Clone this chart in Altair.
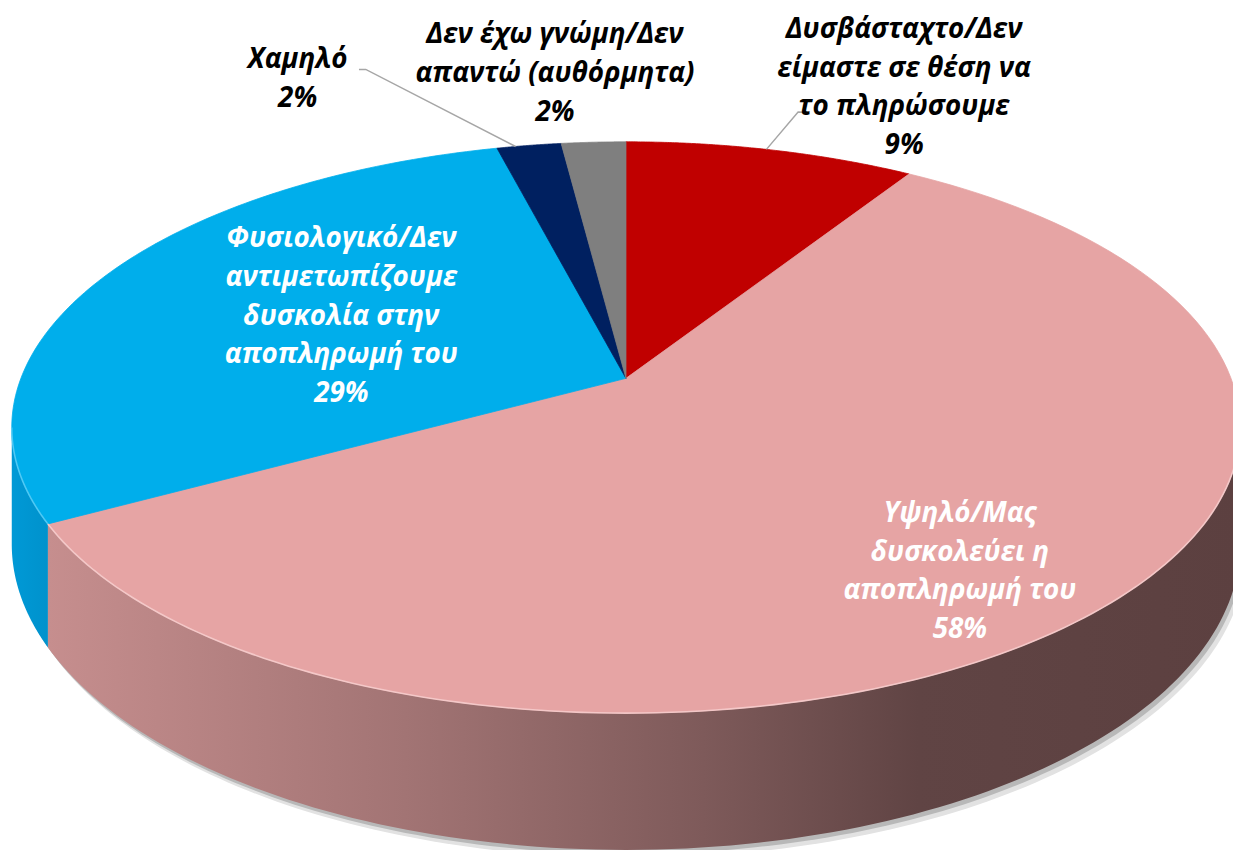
import altair as alt
import pandas as pd

# ---------------- data ----------------
categories = [
    "Δυσβάσταχτο/Δεν είμαστε σε θέση να το πληρώσουμε",
    "Υψηλό/Μας δυσκολεύει η αποπληρωμή του",
    "Φυσιολογικό/Δεν αντιμετωπίζουμε δυσκολία στην αποπληρωμή του",
    "Χαμηλό",
    "Δεν έχω γνώμη/Δεν απαντώ (αυθόρμητα)",
]
values = [9, 58, 29, 2, 2]
label_lines = [
    ["Δυσβάσταχτο/Δεν", "είμαστε σε θέση να", "το πληρώσουμε"],
    ["Υψηλό/Μας", "δυσκολεύει η", "αποπληρωμή του"],
    ["Φυσιολογικό/Δεν", "αντιμετωπίζουμε", "δυσκολία στην", "αποπληρωμή του"],
    ["Χαμηλό"],
    ["Δεν έχω γνώμη/Δεν", "απαντώ (αυθόρμητα)"],
]

# ---------------- styles / layout ----------------
top_colors = ["#C00000", "#E6A4A4", "#00AEEB", "#002060", "#7F7F7F"]
label_white = [False, True, True, False, False]
# label placement in pie polar coords: radius factor and angle offset from slice middle (deg)
label_r = [1.395, 0.795, 0.541, 1.483, 1.361]
label_dt = [7.5, 4.9, 1.9, -15.9, -2.5]
# leader lines (radius factor, angle offset deg) per slice
leader_r = [[1.0, 1.2, 1.205], [], [], [1.0, 1.478, 1.483], []]
leader_dt = [[-0.5, 0.3, 1.2], [], [], [-1.5, -10.3, -10.8], []]

CX, CY = 630.0, 378.0      # apex of the pie
A, B = 279.0, 609.0         # vertical / horizontal radii
K = 0.172                   # perspective factor
D = 114.0                   # thickness
N = 120                     # points per arc
W, H = 1233, 842
LH = 39                     # label line height

TL = f"(PI/2 + asin({K}))"
TR = f"(3*PI/2 - asin({K}))"

df = pd.DataFrame({
    "cat": categories,
    "val": values,
    "idx": list(range(len(values))),
    "label": ["\n".join(l + [f"{v}%"]) for l, v in zip(label_lines, values)],
    "white": label_white,
    "lr": label_r,
    "ldt": label_dt,
    "ldr": leader_r,
    "lddt": leader_dt,
    "lseq": [list(range(len(x))) for x in leader_r],
})

xs = alt.Scale(domain=[8, 8 + W], nice=False, zero=False)
ys = alt.Scale(domain=[8, 8 + H], reverse=True, nice=False, zero=False)
X = alt.X("px:Q", scale=xs, axis=None)
Y = alt.Y("py:Q", scale=ys, axis=None)

base = (
    alt.Chart(df)
    .transform_window(cum="sum(val)", sort=[alt.SortField("idx")], frame=[None, 0])
    .transform_joinaggregate(total="sum(val)")
    .transform_calculate(
        a0="2*PI*(datum.cum-datum.val)/datum.total",
        a1="2*PI*datum.cum/datum.total",
    )
    .transform_calculate(mid="(datum.a0+datum.a1)/2")
)

def proj(chart, extra_y="0", dx="0"):
    return chart.transform_calculate(
        u="datum.r*sin(datum.t)",
        v="datum.r*cos(datum.t)",
    ).transform_calculate(
        w=f"1+{K}*datum.v",
    ).transform_calculate(
        px=f"{CX}+{B}*datum.u/datum.w + ({dx})",
        py=f"{CY}-{A}*datum.v/datum.w + ({extra_y})",
    )

# ---- shadow under the pie ----
def shadow(dx, dy, color):
    c = alt.Chart(alt.sequence(0, 361, as_="s")).transform_calculate(
        t="datum.s*PI/180", r="1"
    )
    c = proj(c, extra_y=f"{D}/datum.w + {dy}", dx=str(dx))
    return c.mark_line(filled=True, interpolate="linear-closed", color=color).encode(
        x=X, y=Y, order=alt.Order("s:Q")
    )

sh1 = shadow(6, 8, "#E2E2E2")
sh2 = shadow(3, 4, "#B8B8B8")

# ---- side walls ----
walls = (
    base.transform_calculate(b0=f"max(datum.a0, {TL})", b1=f"min(datum.a1, {TR})")
    .transform_filter("datum.b1 > datum.b0")
    .transform_calculate(j=f"sequence(0, {2 * N + 2})")
    .transform_flatten(["j"])
    .transform_calculate(kk=f"datum.j <= {N} ? datum.j : {2 * N + 1} - datum.j")
    .transform_calculate(t=f"datum.b0 + (datum.b1-datum.b0)*datum.kk/{N}", r="1")
)
walls = proj(walls, extra_y=f"datum.j > {N} ? {D}/datum.w : 0")

pink_grad = alt.Gradient(
    gradient="linear",
    stops=[
        alt.GradientStop(color="#C68E8E", offset=0),
        alt.GradientStop(color="#A27474", offset=0.3),
        alt.GradientStop(color="#7E5A5A", offset=0.55),
        alt.GradientStop(color="#604444", offset=0.73),
        alt.GradientStop(color="#5C4040", offset=1),
    ],
    x1=0, x2=1, y1=0, y2=0,
)
blue_grad = alt.Gradient(
    gradient="linear",
    stops=[
        alt.GradientStop(color="#0099D6", offset=0),
        alt.GradientStop(color="#0092CC", offset=1),
    ],
    x1=0, x2=1, y1=0, y2=0,
)

wall_pink = walls.transform_filter(alt.datum.idx == 1).mark_line(
    filled=True, interpolate="linear-closed", fill=pink_grad
).encode(x=X, y=Y, order=alt.Order("j:Q"))
wall_blue = walls.transform_filter(alt.datum.idx == 2).mark_line(
    filled=True, interpolate="linear-closed", fill=blue_grad
).encode(x=X, y=Y, order=alt.Order("j:Q"))

# ---- top faces ----
tops = (
    base.transform_calculate(i=f"sequence(-1, {N + 1})")
    .transform_flatten(["i"])
    .transform_calculate(
        t=f"datum.a0 + (datum.a1-datum.a0)*max(datum.i,0)/{N}",
        r="datum.i < 0 ? 0 : 1",
    )
)
tops = proj(tops)
cscale = alt.Scale(domain=categories, range=top_colors)
top_layer = tops.mark_line(filled=True, interpolate="linear-closed", strokeWidth=0.8).encode(
    x=X, y=Y,
    color=alt.Color("cat:N", scale=cscale, legend=None),
    stroke=alt.Stroke("cat:N", scale=cscale, legend=None),
    order=alt.Order("i:Q"),
)

# ---- rim highlight ----
rim = walls.transform_filter(f"datum.j <= {N}")
rim_pink = rim.transform_filter(alt.datum.idx == 1).mark_line(
    color="#F6CCCC", strokeWidth=1.6, opacity=0.9
).encode(x=X, y=Y, order=alt.Order("j:Q"))
rim_blue = rim.transform_filter(alt.datum.idx == 2).mark_line(
    color="#5FD0F8", strokeWidth=1.6, opacity=0.8
).encode(x=X, y=Y, order=alt.Order("j:Q"))

# ---- leader lines ----
leaders = (
    base.transform_flatten(["ldr", "lddt", "lseq"])
    .transform_calculate(t="datum.mid + datum.lddt*PI/180", r="datum.ldr")
)
leaders = proj(leaders).mark_line(color="#A6A6A6", strokeWidth=1.5).encode(
    x=X, y=Y, detail="cat:N", order=alt.Order("lseq:Q")
)

# ---- labels ----
labels = base.transform_calculate(t="datum.mid + datum.ldt*PI/180", r="datum.lr")
labels = proj(labels).transform_calculate(
    ly=f"datum.py - (length(split(datum.label, '\\n')) - 1) * {LH} / 2"
)
LY = alt.Y("ly:Q", scale=ys, axis=None)
txt_kw = dict(
    lineBreak="\n", font="Open Sans", fontSize=28, fontStyle="italic",
    fontWeight="bold", align="center", baseline="middle", lineHeight=LH,
)
lab_black = labels.transform_filter("!datum.white").mark_text(color="#000000", **txt_kw).encode(
    x=X, y=LY, text="label:N"
)
lab_white = labels.transform_filter("datum.white").mark_text(color="#FFFFFF", **txt_kw).encode(
    x=X, y=LY, text="label:N"
)

chart = (
    alt.layer(sh1, sh2, wall_pink, wall_blue, top_layer, rim_pink, rim_blue,
              leaders, lab_black, lab_white)
    .properties(width=W, height=H, padding=0,
                autosize=alt.AutoSizeParams(type="none"))
    .configure_view(stroke=None)
)

chart.save("out.html", embed_options={"renderer": "svg", "actions": False})
